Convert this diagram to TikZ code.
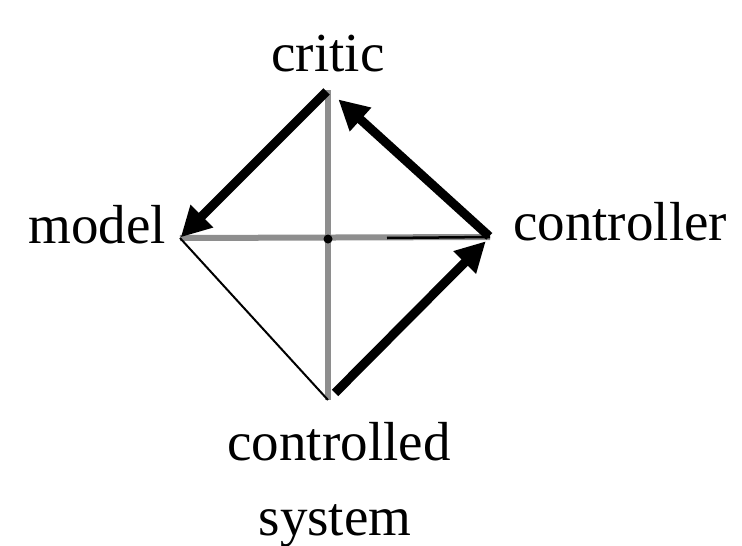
\documentclass[tikz,border=0pt]{standalone}
\usepackage{fontspec}
\setmainfont{Liberation Serif}
\usetikzlibrary{arrows.meta}
\definecolor{tinta}{HTML}{000000}
\definecolor{gris}{HTML}{8E8E8E}

\begin{document}
\begin{tikzpicture}[x=1pt, y=-1pt,
    etiqueta/.style={anchor=base, inner sep=0pt, font=\fontsize{55}{60}\selectfont, color=tinta},
    flecha/.style={tinta, line width=9pt, -{Triangle[length=30pt,width=30pt]}},
    eje/.style={gris, line width=6pt}]
        \useasboundingbox (0,0) rectangle (742,546);
        % vertices of the diamond
        \coordinate (critic) at (328,90);
        \coordinate (model) at (180,238);
        \coordinate (controller) at (490,237);
        \coordinate (sistema) at (328,400);
        \coordinate (centro) at (328,239);
        \coordinate (corte) at (387,238);
        % labels
        \node[etiqueta] (lcritic) at (328,71) {critic};
        \node[etiqueta,anchor=base east] (lmodel) at (166,243) {model};
        \node[etiqueta,anchor=base west] (lcontroller) at (513,240) {controller};
        \node[etiqueta] (lcontrolled) at (339,460) {controlled};
        \node[etiqueta] (lsystem) at (335,535) {system};
        % axes
        \draw[eje] (critic) -- (sistema);
        \draw[eje] (model) -- (controller);
        \draw[tinta, line width=2.5pt] (corte) -- (controller);
        \draw[tinta, line width=2pt] (model) -- (sistema);
        \fill[tinta] (centro) circle (4.5pt);
        % flows
        \draw[flecha, shorten <=2pt, shorten >=1pt] (critic) -- (model);
        \draw[flecha, shorten <=1pt, shorten >=14pt] (controller) -- (critic);
        \draw[flecha, shorten <=10pt, shorten >=6pt] (sistema) -- (controller);
      \end{tikzpicture}
\end{document}
